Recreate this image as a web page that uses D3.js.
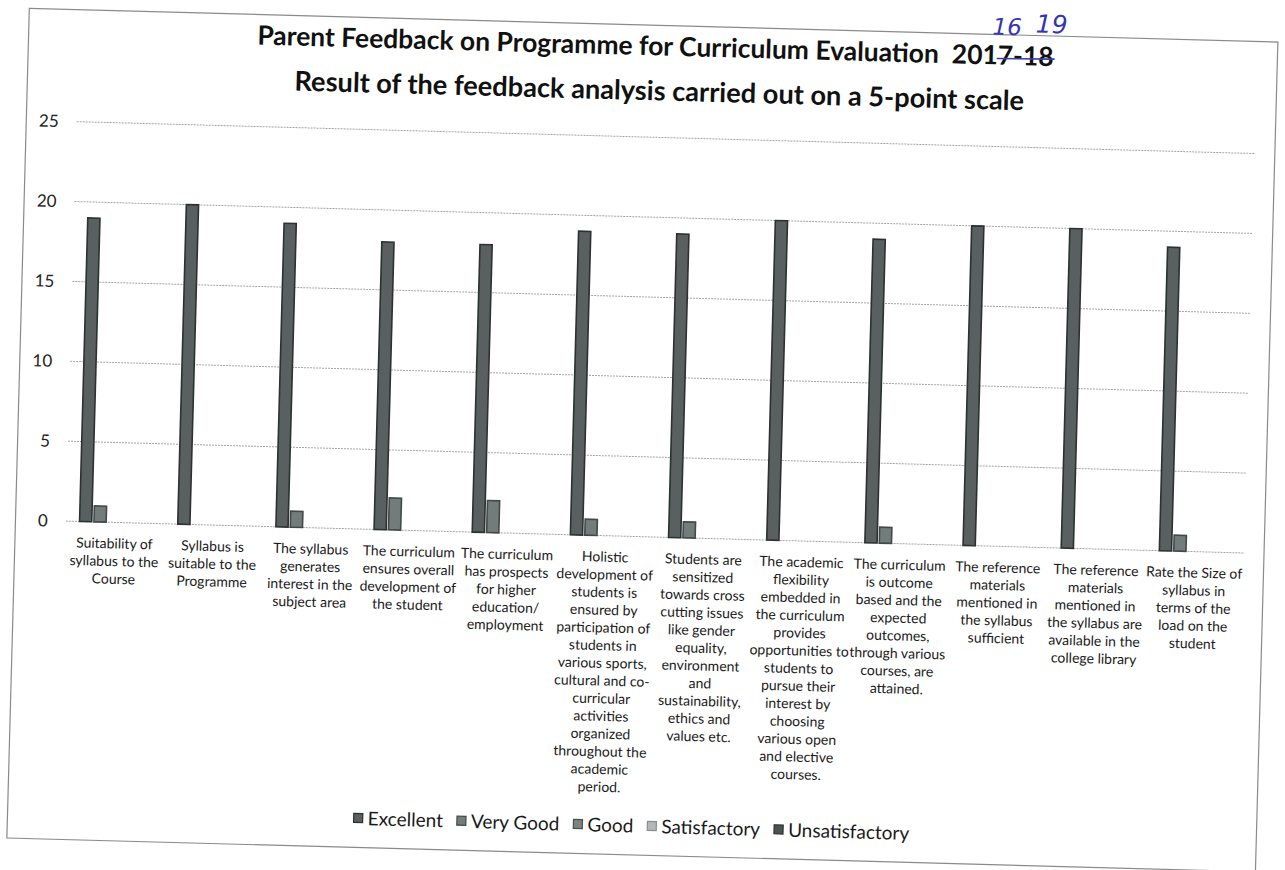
<!DOCTYPE html>
<html><head><meta charset="utf-8">
<script src="https://cdn.jsdelivr.net/npm/d3@7"></script>
<style>body{margin:0;background:#fff} svg{display:block}</style>
</head><body><svg id="c" width="1285" height="870"></svg>
<script>
const categories = [
  ["Suitability of","syllabus to the","Course"],
  ["Syllabus is","suitable to the","Programme"],
  ["The syllabus","generates","interest in the","subject area"],
  ["The curriculum","ensures overall","development of","the student"],
  ["The curriculum","has prospects","for higher","education/","employment"],
  ["Holistic","development of","students is","ensured by","participation of","students in","various sports,","cultural and co-","curricular","activities","organized","throughout the","academic","period."],
  ["Students are","sensitized","towards cross","cutting issues","like gender","equality,","environment","and","sustainability,","ethics and","values etc."],
  ["The academic","flexibility","embedded in","the curriculum","provides","opportunities to","students to","pursue their","interest by","choosing","various open","and elective","courses."],
  ["The curriculum","is outcome","based and the","expected","outcomes,","through various","courses, are","attained."],
  ["The reference","materials","mentioned in","the syllabus","sufficient"],
  ["The reference","materials","mentioned in","the syllabus are","available in the","college library"],
  ["Rate the Size of","syllabus in","terms of the","load on the","student"]
];
const seriesNames = ["Excellent","Very Good","Good","Satisfactory","Unsatisfactory"];
const excellent      = [19,20,19,18,18,19,19,20,19,20,20,19];
const veryGood       = [1,0,1,2,2,1,1,0,1,0,0,1];
const good           = [0,0,0,0,0,0,0,0,0,0,0,0];
const satisfactory   = [0,0,0,0,0,0,0,0,0,0,0,0];
const unsatisfactory = [0,0,0,0,0,0,0,0,0,0,0,0];
const yTicks = [0,5,10,15,20,25];
const titleLine1a = "Parent Feedback on Programme for Curriculum Evaluation  ";
const titleYear = "2017-18";
const titleLine2 = "Result of the feedback analysis carried out on a 5-point scale";
const handNote1 = "16", handNote2 = "19";

const seriesValues = [excellent, veryGood, good, satisfactory, unsatisfactory];
const fills   = ["#59605f","#737b7b","#7d8383","#b4b8b8","#4d5252"];
const strokes = ["#2c3131","#434949","#4a4f4f","#8a8e8e","#2a2e2e"];

const svg = d3.select("#c");
const g = svg.append("g").attr("transform","rotate(1.55 640 435)");
const FONT = "Lato, 'Open Sans', sans-serif";

// chart border
g.append("rect").attr("x",18).attr("y",25).attr("width",1249).attr("height",830)
  .attr("fill","none").attr("stroke","#8a8a8a").attr("stroke-width",1.2);

const plotL = 68.4, plotR = 1246.8, plotT = 137, plotB = 536.6;
const y = d3.scaleLinear().domain([0,25]).range([plotB, plotT]);
const x0 = d3.scaleBand().domain(d3.range(categories.length)).range([plotL, plotR]).padding(0);
const cw = x0.bandwidth();
const gapHalf = 13.1;
const x1 = d3.scaleBand().domain(seriesNames).range([gapHalf, cw - gapHalf]).padding(0);

// gridlines
g.append("g").selectAll("line").data(yTicks).join("line")
  .attr("x1",plotL).attr("x2",plotR)
  .attr("y1",d=>y(d)).attr("y2",d=>y(d))
  .attr("stroke","#a4a4a4").attr("stroke-width",1).attr("stroke-dasharray","2,1");

// y axis labels via d3 axis
const yAxis = d3.axisLeft(y).tickValues(yTicks).tickSize(0).tickPadding(0).tickFormat(d3.format("d"));
const ya = g.append("g").attr("transform",`translate(${plotL-18},0)`).call(yAxis);
ya.select(".domain").remove();
ya.selectAll("text").attr("font-family",FONT).attr("font-size",17).attr("fill","#222");

// bars
seriesNames.forEach((s,si)=>{
  g.append("g").selectAll("rect").data(seriesValues[si].map((v,i)=>({v,i})).filter(d=>d.v>0)).join("rect")
    .attr("x",d=>x0(d.i)+x1(s)+0.6)
    .attr("width",x1.bandwidth()-2.2)
    .attr("y",d=>y(d.v))
    .attr("height",d=>y(0)-y(d.v))
    .attr("fill",fills[si]).attr("stroke",strokes[si]).attr("stroke-width",1.6);
});

// category labels
const lab = g.append("g");
categories.forEach((lines,i)=>{
  const t = lab.append("text").attr("text-anchor","middle")
    .attr("font-family",FONT).attr("font-size",14).attr("fill","#1a1a1a");
  lines.forEach((ln,k)=>{
    t.append("tspan").attr("x",x0(i)+cw/2).attr("y",plotB+26+k*17.7).text(ln);
  });
});

// title
const t1 = g.append("text").attr("x",645).attr("y",55).attr("text-anchor","middle")
  .attr("font-family",FONT).attr("font-weight","bold").attr("font-size",23).attr("fill","#111");
t1.append("tspan").text(titleLine1a).style("white-space","pre");
t1.append("tspan").text(titleYear);
const w1 = t1.node().getComputedTextLength();
t1.attr("font-size",23*797/w1);
const t2 = g.append("text").attr("x",650).attr("y",100).attr("text-anchor","middle")
  .attr("font-family",FONT).attr("font-weight","bold").attr("font-size",23).attr("fill","#111").text(titleLine2);
const w2 = t2.node().getComputedTextLength();
t2.attr("font-size",23*730/w2);

// handwritten correction
const n = t1.node();
const full = titleLine1a + titleYear;
const i7 = full.length - 4; // '7'
const sx = n.getStartPositionOfChar(i7).x;
const ex = n.getEndPositionOfChar(full.length-1).x;
const i18 = full.length - 2;
const s18 = n.getStartPositionOfChar(i18).x;
g.append("line").attr("x1",sx-1).attr("x2",ex+1).attr("y1",49).attr("y2",48)
  .attr("stroke","#3b3bb0").attr("stroke-width",1.6);
g.append("text").attr("x",sx-6).attr("y",25).attr("font-family","'DejaVu Sans', sans-serif")
  .attr("font-style","italic").attr("font-size",23).attr("fill","#3434b4").text(handNote1);
g.append("text").attr("x",s18+12).attr("y",22).attr("font-family","'DejaVu Sans', sans-serif")
  .attr("font-style","italic").attr("font-size",25).attr("fill","#3434b4").text(handNote2);

// legend
const leg = g.append("g");
const items = [];
seriesNames.forEach((s,si)=>{
  const it = leg.append("g");
  it.append("rect").attr("x",0).attr("y",-5).attr("width",9).attr("height",9)
    .attr("fill",fills[si]).attr("stroke",strokes[si]).attr("stroke-width",1.2);
  const tx = it.append("text").attr("x",14).attr("y",6.5).attr("font-family",FONT)
    .attr("font-size",19).attr("fill","#1a1a1a").text(s);
  const w = 14 + tx.node().getComputedTextLength();
  items.push({it,w});
});
const spacing = 14;
const total = d3.sum(items,d=>d.w) + spacing*(items.length-1);
let cx = 642 - total/2;
items.forEach(d=>{ d.it.attr("transform",`translate(${cx},826)`); cx += d.w + spacing; });
</script></body></html>
